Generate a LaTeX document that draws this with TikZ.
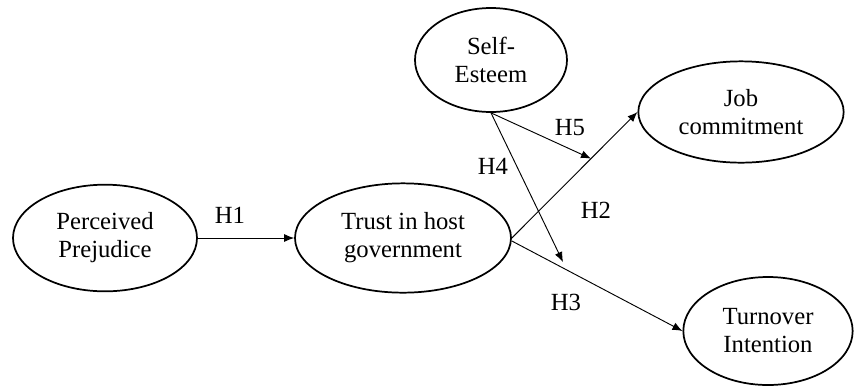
\documentclass[tikz,border=0pt]{standalone}
\usepackage{fontspec}
\setmainfont{Liberation Serif}
\usetikzlibrary{shapes.geometric}
\usetikzlibrary{arrows.meta}
\usetikzlibrary{calc}

\begin{document}
\begin{tikzpicture}[x=0.75pt, y=-0.75pt,
  construct/.style={ellipse, draw, line width=1.3pt, inner sep=0pt, align=center,
    font=\fontsize{18.5}{21}\selectfont},
  hyp/.style={-{Latex[length=7.5pt,width=6pt]}, line width=0.7pt},
  hlabel/.style={font=\fontsize{18.5}{21}\selectfont, inner sep=0pt}]

  \useasboundingbox (0,0) rectangle (857,387);

  % constructs
  \node[construct, minimum width=138pt, minimum height=80pt] (prej) at (105, 238) {Perceived\\Prejudice};
  \node[construct, minimum width=162pt, minimum height=82pt] (trust) at (403, 238) {Trust in host\\government};
  \node[construct, minimum width=114pt, minimum height=78pt] (self) at (491, 60) {Self-\\Esteem};
  \node[construct, minimum width=154pt, minimum height=76pt] (job) at (741, 112) {Job\\commitment};
  \node[construct, minimum width=127pt, minimum height=81pt] (turn) at (768, 331) {Turnover\\Intention};

  % paths
  \draw[hyp] (prej.east) -- (trust.west);
  \draw[hyp] (trust.east) -- (job.west);
  \draw[hyp] ($(trust.east)+(0,3)$) -- (turn.west);

  \coordinate (m5) at ($(trust.east)!0.63!(job.west)$);
  \coordinate (m4) at (563, 262);
  \draw[hyp] (self.south) -- (m4);
  \draw[hyp] (self.south) -- (m5);

  % hypothesis labels
  \node[hlabel] (h1) at (230, 215) {H1};
  \node[hlabel] (h2) at (596, 210) {H2};
  \node[hlabel] (h3) at (566, 302) {H3};
  \node[hlabel] (h4) at (493, 166) {H4};
  \node[hlabel] (h5) at (570, 128) {H5};

\end{tikzpicture}
\end{document}
